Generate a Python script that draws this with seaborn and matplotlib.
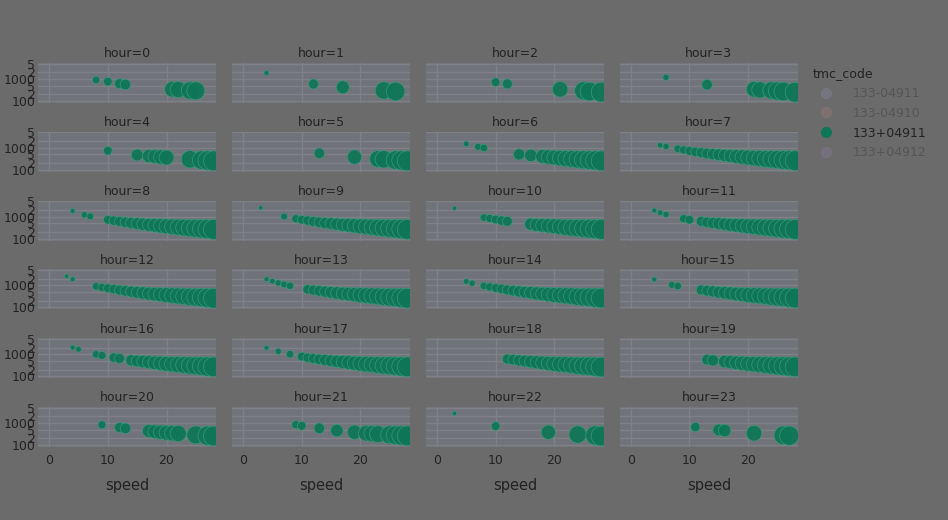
import matplotlib
matplotlib.use("Agg")
import matplotlib.pyplot as plt
from matplotlib.lines import Line2D
import matplotlib.ticker as mticker
import seaborn as sns
import pandas as pd

# ---- data ----
hours = list(range(24))
speed_00 = [8, 10, 12, 13, 21, 22, 24, 25]
value_00 = [900, 760, 610, 560, 340, 330, 300, 290]
speed_01 = [4, 12, 17, 24, 26]
value_01 = [1850, 590, 420, 300, 270]
speed_02 = [10, 12, 21, 25, 26, 28]
value_02 = [720, 600, 340, 290, 270, 255]
speed_03 = [6, 13, 21, 22, 24, 25, 26, 28]
value_03 = [1180, 550, 340, 320, 300, 285, 270, 250]
speed_04 = [10, 15, 17, 18, 19, 20, 24, 26, 27, 28]
value_04 = [740, 470, 420, 400, 380, 360, 300, 275, 265, 255]
speed_05 = [13, 19, 23, 24, 26, 27, 28]
value_05 = [560, 380, 310, 300, 275, 265, 255]
speed_06 = [5, 7, 8, 14, 16, 18, 19, 20, 21, 22, 23, 24, 25, 26, 27, 28]
value_06 = [1500, 1100, 980, 500, 450, 400, 380, 360, 340, 320, 310, 295, 285, 275, 265, 255]
speed_07 = [5, 6, 8, 9, 10, 11, 12, 13, 14, 15, 16, 17, 18, 19, 20, 21, 22, 23, 24, 25, 26, 27, 28]
value_07 = [1300, 1150, 900, 800, 720, 650, 600, 550, 510, 480, 450, 420, 400, 380, 360, 340, 325, 310, 300, 290, 280, 270, 260]
speed_08 = [4, 6, 7, 10, 11, 12, 13, 14, 15, 16, 17, 18, 19, 20, 21, 22, 23, 24, 25, 26, 27, 28]
value_08 = [1800, 1200, 1020, 720, 650, 600, 550, 510, 480, 450, 420, 400, 380, 360, 345, 330, 315, 300, 290, 280, 270, 260]
speed_09 = [3, 7, 9, 10, 11, 12, 13, 14, 15, 16, 17, 18, 19, 20, 21, 22, 23, 24, 25, 26, 27, 28]
value_09 = [2500, 1000, 800, 720, 660, 600, 550, 510, 480, 450, 420, 400, 380, 360, 345, 330, 315, 300, 290, 280, 270, 260]
speed_10 = [3, 8, 9, 10, 11, 12, 16, 17, 18, 19, 20, 21, 22, 23, 24, 25, 26, 27, 28]
value_10 = [2400, 900, 820, 740, 660, 610, 450, 420, 400, 380, 360, 340, 325, 310, 300, 290, 280, 270, 260]
speed_11 = [4, 5, 6, 9, 10, 12, 13, 14, 15, 16, 17, 18, 19, 20, 21, 22, 23, 24, 25, 26, 27, 28]
value_11 = [1900, 1500, 1250, 800, 720, 600, 550, 510, 480, 450, 420, 400, 380, 360, 345, 330, 315, 300, 290, 280, 270, 260]
speed_12 = [3, 4, 8, 9, 10, 11, 12, 13, 14, 15, 16, 17, 18, 19, 20, 21, 22, 23, 24, 25, 26, 27, 28]
value_12 = [2600, 1900, 900, 820, 740, 670, 610, 560, 520, 480, 450, 420, 400, 380, 360, 345, 330, 315, 300, 290, 280, 270, 260]
speed_13 = [4, 5, 6, 7, 8, 11, 12, 13, 14, 15, 16, 17, 18, 19, 20, 21, 22, 23, 24, 25, 26, 27, 28]
value_13 = [1900, 1550, 1300, 1100, 960, 660, 610, 560, 520, 480, 450, 420, 400, 380, 360, 345, 330, 315, 300, 290, 280, 270, 260]
speed_14 = [5, 6, 8, 9, 10, 11, 12, 13, 14, 15, 16, 17, 18, 19, 20, 21, 22, 23, 24, 25, 26, 27, 28]
value_14 = [1500, 1250, 950, 850, 760, 690, 620, 570, 530, 490, 460, 430, 405, 385, 365, 350, 335, 320, 305, 295, 285, 275, 265]
speed_15 = [4, 7, 8, 12, 13, 14, 15, 16, 17, 18, 19, 20, 21, 22, 23, 24, 25, 26, 27, 28]
value_15 = [1850, 1050, 930, 620, 570, 530, 490, 460, 430, 405, 385, 365, 350, 335, 320, 305, 295, 285, 275, 265]
speed_16 = [4, 5, 8, 9, 11, 12, 14, 15, 16, 17, 18, 19, 20, 21, 22, 23, 24, 25, 26, 27, 28]
value_16 = [2000, 1650, 980, 880, 700, 640, 520, 490, 460, 430, 405, 385, 365, 350, 335, 320, 305, 295, 285, 275, 265]
speed_17 = [4, 6, 8, 10, 11, 12, 13, 14, 15, 16, 17, 18, 19, 20, 21, 22, 23, 24, 25, 26, 27, 28]
value_17 = [1950, 1350, 1000, 780, 690, 630, 580, 540, 500, 470, 440, 415, 390, 370, 350, 335, 320, 305, 295, 285, 275, 265]
speed_18 = [12, 13, 14, 15, 16, 17, 18, 19, 20, 21, 22, 23, 24, 25, 26, 27, 28]
value_18 = [600, 560, 520, 485, 455, 425, 400, 380, 360, 345, 330, 315, 300, 290, 280, 270, 260]
speed_19 = [13, 14, 16, 17, 18, 19, 20, 21, 22, 23, 24, 25, 26, 27, 28]
value_19 = [560, 520, 460, 430, 405, 385, 365, 350, 335, 320, 305, 295, 285, 275, 265]
speed_20 = [9, 12, 13, 17, 18, 19, 20, 21, 22, 25, 27, 28]
value_20 = [820, 620, 570, 430, 400, 380, 360, 345, 330, 285, 265, 255]
speed_21 = [9, 10, 13, 16, 19, 21, 22, 23, 25, 26, 27, 28]
value_21 = [830, 740, 570, 450, 380, 340, 325, 310, 290, 280, 270, 260]
speed_22 = [3, 10, 19, 24, 27, 28]
value_22 = [2700, 720, 380, 300, 270, 255]
speed_23 = [11, 15, 16, 21, 26, 27]
value_23 = [650, 480, 450, 340, 275, 265]

speeds = [speed_00, speed_01, speed_02, speed_03, speed_04, speed_05, speed_06, speed_07,
          speed_08, speed_09, speed_10, speed_11, speed_12, speed_13, speed_14, speed_15,
          speed_16, speed_17, speed_18, speed_19, speed_20, speed_21, speed_22, speed_23]
values = [value_00, value_01, value_02, value_03, value_04, value_05, value_06, value_07,
          value_08, value_09, value_10, value_11, value_12, value_13, value_14, value_15,
          value_16, value_17, value_18, value_19, value_20, value_21, value_22, value_23]

legend_codes = ["133-04911", "133-04910", "133+04911", "133+04912"]
x_ticks = [0, 10, 20]
y_ticks = [100, 200, 500, 1000, 2000, 5000]
y_tick_labels = ["100", "2", "5", "1000", "2", "5"]

rows = []
for h, sp, vl in zip(hours, speeds, values):
    for s, v in zip(sp, vl):
        rows.append({"hour": h, "speed": s, "value": v, "tmc_code": "133+04911"})
df = pd.DataFrame(rows)

# ---- style ----
BG = "#6b6b6b"
PANEL = "#70737a"
GRID = "#7f8186"
TXT = "#222222"
GREEN = "#0f7657"

sns.set_theme(style="darkgrid", rc={
    "figure.facecolor": BG,
    "axes.facecolor": PANEL,
    "grid.color": GRID,
    "grid.linewidth": 1.0,
    "axes.edgecolor": PANEL,
    "text.color": TXT,
    "axes.labelcolor": TXT,
    "xtick.color": TXT,
    "ytick.color": TXT,
})
plt.rcParams["font.family"] = ["DejaVu Sans"]

uniq = sorted(df["speed"].unique())
size_map = {s: (0.72 * (2.5 + 0.62 * s)) ** 2 for s in uniq}

g = sns.relplot(data=df, x="speed", y="value", col="hour", col_wrap=4,
                kind="scatter", size="speed", sizes=size_map, color=GREEN,
                edgecolor="#3b9a7b", linewidth=0.5, alpha=0.95, legend=False,
                height=1.0, aspect=2.0,
                facet_kws=dict(sharex=True, sharey=True))

fig = g.figure
fig.set_size_inches(9.48, 5.2)
fig.set_dpi(100)
fig.subplots_adjust(left=0.0401, right=0.8418, top=0.8788, bottom=0.1404,
                    wspace=0.087, hspace=0.72)

g.set_titles("hour={col_name}", size=9, color=TXT, pad=4)
g.set(yscale="log")
g.set_axis_labels("speed", "")
ncol = 4
naxes = len(g.axes.flat)
for i, ax in enumerate(g.axes.flat):
    ax.set_xlim(-1.9, 28.5)
    ax.set_ylim(81, 5300)
    ax.set_xticks(x_ticks)
    ax.yaxis.set_major_locator(mticker.FixedLocator(y_ticks))
    ax.yaxis.set_major_formatter(mticker.FixedFormatter(y_tick_labels))
    ax.yaxis.set_minor_locator(mticker.NullLocator())
    ax.tick_params(axis="both", length=0, labelsize=9, pad=2)
    ax.tick_params(axis="x", pad=5)
    left_col = (i % ncol == 0)
    bottom_row = (i >= naxes - ncol)
    ax.tick_params(axis="y", labelleft=left_col)
    ax.tick_params(axis="x", labelbottom=bottom_row)
    for sp in ax.spines.values():
        sp.set_visible(False)
    ax.grid(True, color=GRID, linewidth=1.0)
    if bottom_row:
        ax.set_xlabel("speed", fontsize=10.5, labelpad=8)
    else:
        ax.set_xlabel("")

# legend
fade = ["#7a7b8a", "#8a7572", GREEN, "#7d7589"]
alphas = [0.6, 0.6, 1.0, 0.6]
handles = [Line2D([0], [0], marker="o", linestyle="", markersize=7,
                  markerfacecolor=c, markeredgecolor=c, alpha=a)
           for c, a in zip(fade, alphas)]
leg = fig.legend(handles, legend_codes, title="tmc_code", loc="upper left",
                 bbox_to_anchor=(808 / 948, 1 - 62 / 520), frameon=False,
                 fontsize=9, title_fontsize=9, labelspacing=0.55,
                 handletextpad=1.2, borderaxespad=0)
leg._legend_box.align = "left"
leg.get_title().set_color(TXT)
for t, active in zip(leg.get_texts(), [False, False, True, False]):
    t.set_color(TXT if active else "#555555")

fig.savefig("out.png", dpi=100, facecolor=BG)
